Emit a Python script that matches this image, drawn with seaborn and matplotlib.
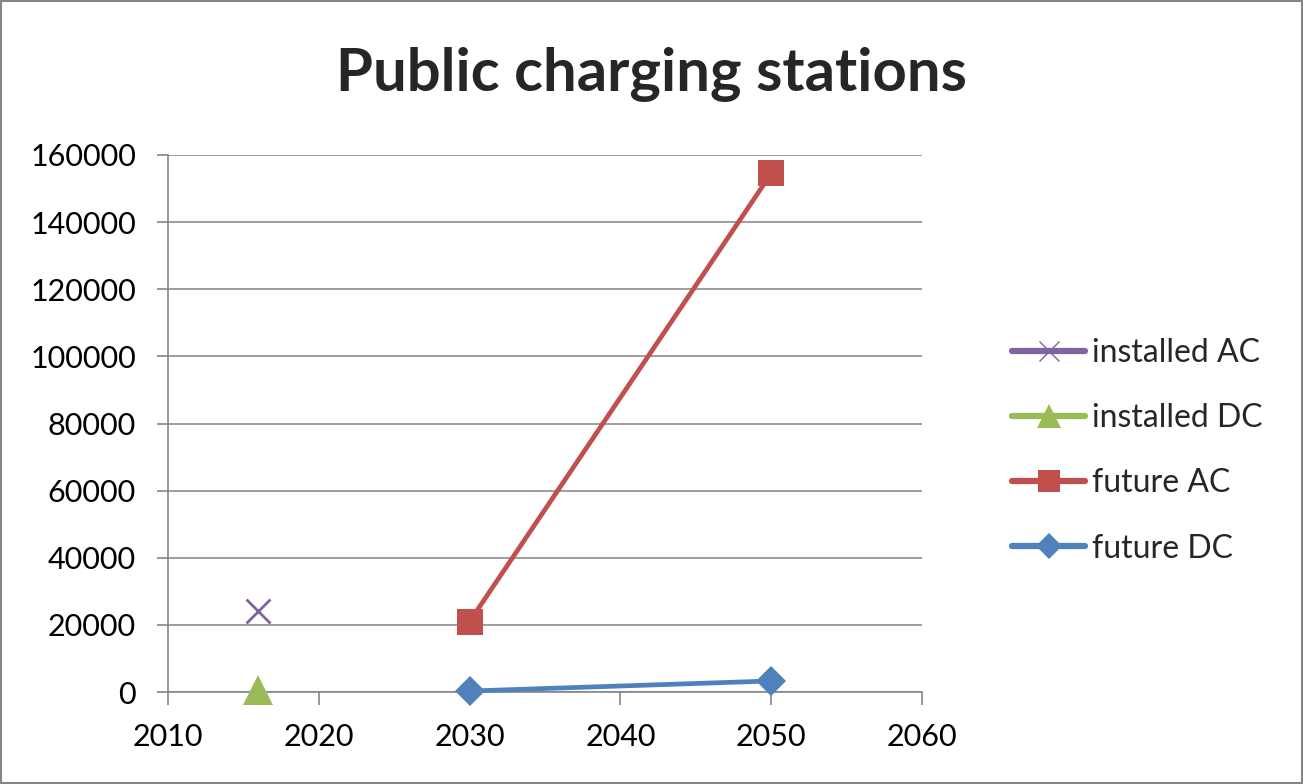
import matplotlib
matplotlib.use("Agg")
import matplotlib.pyplot as plt
from matplotlib.lines import Line2D
from matplotlib.patches import Rectangle
import seaborn as sns
import pandas as pd

# Series data
installed_ac_years = [2016]
installed_ac_values = [24000]
installed_dc_years = [2016]
installed_dc_values = [500]
future_ac_years = [2030, 2050]
future_ac_values = [21000, 154500]
future_dc_years = [2030, 2050]
future_dc_values = [300, 3300]

series_names = ["installed AC", "installed DC", "future AC", "future DC"]
x_ticks = [2010, 2020, 2030, 2040, 2050, 2060]
y_ticks = [0, 20000, 40000, 60000, 80000, 100000, 120000, 140000, 160000]

sns.set_theme(style="white", rc={"xtick.bottom": True, "ytick.left": True})
plt.rcParams["font.family"] = ["Lato", "DejaVu Sans"]

fig = plt.figure(figsize=(13.03, 7.84), dpi=100)
ax = fig.add_axes([0.1289, 0.1173, 0.5787, 0.6850])

styles = [
    dict(color="#8064A2", marker="x", ms=17, mew=2.0),
    dict(color="#9BBB59", marker="^", ms=21, mew=0),
    dict(color="#C0504D", marker="s", ms=19, mew=0),
    dict(color="#4F81BD", marker="D", ms=15, mew=0),
]
data = [
    (installed_ac_years, installed_ac_values),
    (installed_dc_years, installed_dc_values),
    (future_ac_years, future_ac_values),
    (future_dc_years, future_dc_values),
]

for name, (xs, ys), st in zip(series_names, data, styles):
    df = pd.DataFrame({"year": xs, "stations": ys})
    sns.lineplot(data=df, x="year", y="stations", ax=ax, color=st["color"],
                 linewidth=3.4, marker=st["marker"], markersize=st["ms"],
                 markeredgewidth=st["mew"], markeredgecolor=st["color"],
                 markerfacecolor=st["color"], legend=False, zorder=3,
                 clip_on=False)

ax.set_xlim(2010, 2060)
ax.set_ylim(0, 160000)
ax.set_xticks(x_ticks)
ax.set_yticks(y_ticks)
ax.set_xticklabels([str(v) for v in x_ticks])
ax.set_yticklabels([str(v) for v in y_ticks])
ax.set_xlabel("")
ax.set_ylabel("")
ax.tick_params(axis="both", labelsize=22, colors="#868686", labelcolor="black",
               width=1.2, direction="out")
ax.tick_params(axis="x", length=9, pad=13)
ax.tick_params(axis="y", length=8, pad=15)
ax.yaxis.grid(True, color="#8c8c8c", linewidth=1.2)
ax.set_axisbelow(True)
for side in ["top", "right"]:
    ax.spines[side].set_visible(False)
for side in ["left", "bottom"]:
    ax.spines[side].set_color("#868686")
    ax.spines[side].set_linewidth(1.2)

fig.text(0.5, 0.905, "Public charging stations", ha="center", va="center",
         fontsize=43, fontweight="bold")

handles = [Line2D([0], [0], color=st["color"], linewidth=4.5, marker=st["marker"],
                  markersize=st["ms"] * 0.85, markeredgewidth=st["mew"],
                  markeredgecolor=st["color"], markerfacecolor=st["color"])
           for st in styles]
handles[0].set_markeredgewidth(1.0)
fig.legend(handles, series_names, loc="center left", bbox_to_anchor=(0.7545, 0.425),
           frameon=False, fontsize=23, handlelength=2.3, handletextpad=0.2,
           labelspacing=1.1)

fig.add_artist(Rectangle((0.001, 0.001), 0.998, 0.998, transform=fig.transFigure,
                         fill=False, edgecolor="#868686", linewidth=1.5))

fig.savefig("out.png", dpi=100)
